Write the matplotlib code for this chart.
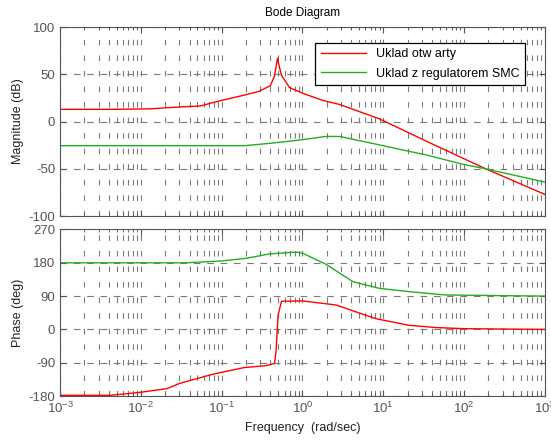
import numpy as np
import matplotlib
matplotlib.use('Agg')
import matplotlib.pyplot as plt
from matplotlib.ticker import LogLocator

plt.rcParams['font.family'] = ['Liberation Sans', 'DejaVu Sans']
plt.rcParams['font.size'] = 9
plt.rcParams['axes.unicode_minus'] = False

# Magnitude, open loop (red)
w_mag_open = [1e-3, 0.005, 0.013, 0.03, 0.054, 0.095, 0.19, 0.29, 0.40, 0.45, 0.49,
              0.52, 0.55, 0.69, 1.0, 1.77, 2.9, 8.9, 40, 186, 1000]
mag_open = [13, 13, 13.5, 15.5, 16.5, 22, 28, 32, 38, 48, 67,
            57, 49, 36, 30, 22.5, 18, 3, -23.5, -50, -77]

# Magnitude, with SMC controller (green)
w_mag_smc = [1e-3, 0.19, 0.39, 0.83, 1.95, 2.9, 8.9, 37, 95, 186, 1000]
mag_smc = [-25.5, -25.5, -23, -20, -15.7, -15.7, -24.6, -36, -45, -50, -64]

# Phase, open loop (red)
w_ph_open = [1e-3, 0.0042, 0.0098, 0.021, 0.03, 0.078, 0.19, 0.35, 0.45, 0.47,
             0.50, 0.55, 1.0, 2.6, 8.1, 21, 45, 100, 1000]
ph_open = [-178, -178, -170, -160, -146, -121, -103, -98, -92, -60,
           40, 76, 77, 66, 29, 11, 5, 2, 0]

# Phase, with SMC controller (green)
w_ph_smc = [1e-3, 0.036, 0.1, 0.2, 0.39, 0.83, 1.0, 1.95, 4.2, 8.9, 21, 59, 1000]
ph_smc = [180, 180, 185, 192, 204, 209, 206, 176, 129, 111, 102, 93, 90]

labels = ['Uklad otw arty', 'Uklad z regulatorem SMC']
red = '#ff0000'
green = '#1fb01f'
grid_c = '#7a7a7a'
tick_c = '#555555'

fig = plt.figure(figsize=(5.51, 4.43), dpi=100)
ax1 = fig.add_axes([0.109, 0.512, 0.880, 0.427])
ax2 = fig.add_axes([0.109, 0.106, 0.880, 0.376])

ax1.semilogx(w_mag_open, mag_open, color=red, lw=1.0, label=labels[0])
ax1.semilogx(w_mag_smc, mag_smc, color=green, lw=1.0, label=labels[1])
ax2.semilogx(w_ph_open, ph_open, color=red, lw=1.0)
ax2.semilogx(w_ph_smc, ph_smc, color=green, lw=1.0)

ax1.set_ylim(-100, 100)
ax1.set_yticks([-100, -50, 0, 50, 100])
ax2.set_ylim(-180, 270)
ax2.set_yticks([-180, -90, 0, 90, 180, 270])

for ax in (ax1, ax2):
    ax.set_xlim(1e-3, 1e3)
    ax.xaxis.set_major_locator(LogLocator(base=10, numticks=10))
    ax.xaxis.set_minor_locator(LogLocator(base=10, subs=np.arange(2, 10), numticks=10))
    ax.grid(True, which='major', axis='y', color=grid_c, lw=0.8, linestyle=(0, (6, 6)))
    ax.grid(True, which='both', axis='x', color=grid_c, lw=0.8, linestyle=(0, (5, 9)))
    ax.tick_params(which='both', direction='in', top=True, right=True,
                   colors=tick_c, labelcolor=tick_c, labelsize=9.5)
    ax.tick_params(which='major', length=4)
    ax.tick_params(which='minor', length=2)
    for s in ax.spines.values():
        s.set_color('#555555')
        s.set_linewidth(0.8)

ax1.tick_params(labelbottom=False)
ax1.set_ylabel('Magnitude (dB)', color='#222222', fontsize=9)
ax2.set_ylabel('Phase (deg)', color='#222222', fontsize=9)
ax2.set_xlabel('Frequency  (rad/sec)', color='#222222', fontsize=9)
ax1.yaxis.set_label_coords(-0.075, 0.5)
ax2.yaxis.set_label_coords(-0.075, 0.5)

fig.text(0.55, 0.970, 'Bode Diagram', ha='center', va='center', fontsize=8.5)

leg = ax1.legend(loc='upper right', bbox_to_anchor=(0.972, 0.95), frameon=True,
                 fancybox=False, edgecolor='black', framealpha=1, fontsize=9,
                 handlelength=3.6, borderpad=0.45, labelspacing=0.6)
leg.get_frame().set_linewidth(0.9)

fig.savefig('out.png', dpi=100)
